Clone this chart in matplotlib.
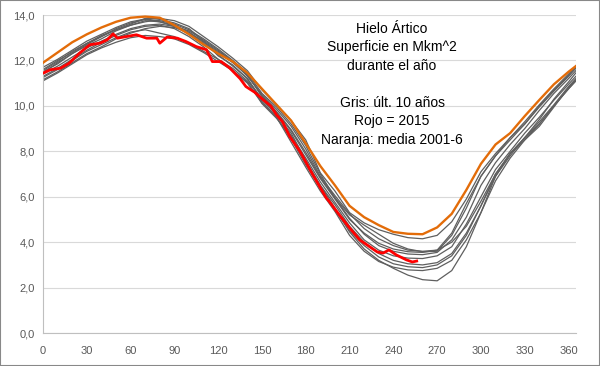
import matplotlib
matplotlib.use("Agg")
import matplotlib.pyplot as plt
from matplotlib.patches import Rectangle

plt.rcParams["font.family"] = ["Liberation Sans", "DejaVu Sans"]

# ── datos (Mkm^2) ──
dias = [0, 10, 20, 30, 40, 50, 60, 70, 80, 90, 100, 110, 120, 130, 140, 150, 160, 170, 180,
        190, 200, 210, 220, 230, 240, 250, 260, 270, 280, 290, 300, 310, 320, 330, 340, 350, 360, 365]

# últimos 10 años (gris)
gris_1 = [11.70, 12.05, 12.45, 12.85, 13.15, 13.45, 13.70, 13.82, 13.75, 13.60, 13.35, 12.95, 12.50, 12.00, 11.45, 10.55, 9.95, 9.20, 8.25,
          7.00, 5.95, 5.20, 4.75, 4.35, 3.95, 3.70, 3.58, 3.60, 4.30, 5.50, 6.90, 7.80, 8.50, 9.20, 10.00, 10.70, 11.35, 11.70]
gris_2 = [11.50, 11.85, 12.30, 12.70, 13.05, 13.35, 13.55, 13.70, 13.80, 13.65, 13.40, 12.85, 12.20, 11.80, 11.20, 10.30, 9.60, 8.80, 7.60,
          6.50, 5.50, 4.45, 3.70, 3.20, 2.85, 2.55, 2.35, 2.30, 2.75, 3.80, 5.30, 6.90, 7.90, 8.60, 9.40, 10.30, 11.05, 11.45]
gris_3 = [11.30, 11.65, 12.05, 12.45, 12.80, 13.10, 13.35, 13.50, 13.55, 13.40, 13.05, 12.60, 12.05, 11.55, 11.00, 10.15, 9.50, 8.55, 7.40,
          6.40, 5.40, 4.50, 3.85, 3.35, 3.05, 2.92, 2.88, 3.00, 3.40, 4.30, 5.60, 7.00, 7.90, 8.50, 9.10, 9.95, 10.80, 11.15]
gris_4 = [11.45, 11.90, 12.30, 12.65, 12.95, 13.30, 13.55, 13.75, 13.70, 13.55, 13.25, 12.80, 12.35, 11.90, 11.35, 10.45, 9.75, 8.95, 7.95,
          6.85, 5.95, 5.05, 4.35, 3.85, 3.60, 3.48, 3.45, 3.55, 4.10, 5.10, 6.50, 7.50, 8.30, 9.00, 9.80, 10.55, 11.20, 11.55]
gris_5 = [11.60, 12.00, 12.35, 12.75, 13.10, 13.35, 13.60, 13.85, 13.85, 13.75, 13.50, 13.05, 12.60, 12.10, 11.55, 10.70, 10.05, 9.35, 8.50,
          7.05, 6.25, 5.30, 4.85, 4.55, 4.35, 4.20, 4.15, 4.30, 4.90, 5.90, 7.10, 7.90, 8.60, 9.30, 10.05, 10.75, 11.40, 11.75]
gris_6 = [11.10, 11.45, 11.85, 12.25, 12.55, 12.80, 13.00, 13.10, 13.05, 12.95, 12.70, 12.35, 11.95, 11.55, 11.05, 10.10, 9.45, 8.65, 7.55,
          6.50, 5.65, 4.70, 4.00, 3.50, 3.20, 3.05, 3.00, 3.10, 3.50, 4.40, 5.60, 6.90, 7.80, 8.60, 9.30, 10.05, 10.85, 11.20]
gris_7 = [11.25, 11.60, 12.00, 12.40, 12.70, 13.00, 13.25, 13.35, 13.20, 13.05, 12.75, 12.40, 12.05, 11.65, 11.10, 10.30, 9.60, 8.70, 7.70,
          6.65, 5.75, 4.85, 4.10, 3.65, 3.40, 3.30, 3.28, 3.40, 3.80, 4.80, 6.00, 7.20, 8.00, 8.80, 9.50, 10.25, 10.95, 11.30]
gris_8 = [11.40, 11.75, 12.15, 12.55, 12.85, 13.15, 13.40, 13.55, 13.60, 13.50, 13.20, 12.75, 12.25, 11.75, 11.20, 10.20, 9.50, 8.40, 7.30,
          6.25, 5.35, 4.30, 3.60, 3.15, 2.90, 2.78, 2.75, 2.85, 3.20, 4.10, 5.30, 6.70, 7.70, 8.50, 9.20, 10.00, 10.75, 11.10]
gris_9 = [11.55, 11.95, 12.40, 12.75, 13.05, 13.40, 13.65, 13.80, 13.70, 13.50, 13.30, 12.90, 12.45, 11.95, 11.40, 10.40, 9.70, 8.90, 7.85,
          6.80, 5.90, 5.00, 4.40, 3.95, 3.70, 3.58, 3.55, 3.65, 4.40, 5.70, 6.90, 7.80, 8.60, 9.20, 9.95, 10.65, 11.30, 11.65]
gris_10 = [11.15, 11.50, 11.90, 12.30, 12.60, 12.95, 13.20, 13.40, 13.50, 13.45, 13.20, 12.85, 12.40, 11.95, 11.30, 10.50, 9.85, 9.10, 8.10,
           6.90, 6.05, 5.25, 4.60, 4.15, 3.85, 3.65, 3.60, 3.65, 4.00, 4.70, 5.80, 7.00, 7.90, 8.60, 9.20, 10.00, 10.75, 11.10]
grises = [gris_1, gris_2, gris_3, gris_4, gris_5, gris_6, gris_7, gris_8, gris_9, gris_10]

# media 2001-6 (naranja)
naranja = [11.90, 12.35, 12.80, 13.15, 13.45, 13.70, 13.88, 13.93, 13.88, 13.55, 13.15, 12.70, 12.30, 11.95, 11.45, 10.75, 10.05, 9.35, 8.35,
           7.35, 6.50, 5.60, 5.10, 4.75, 4.45, 4.37, 4.35, 4.65, 5.25, 6.30, 7.45, 8.30, 8.80, 9.55, 10.26, 10.95, 11.50, 11.75]

# 2015 (rojo)
dias_2015 = [0, 5, 12, 18, 25, 32, 39, 44, 48, 51, 57, 64, 71, 78, 80, 85, 92, 98, 105, 112, 116, 122, 128, 135,
             139, 145, 151, 156, 160, 164, 169, 176, 185, 194, 196, 203, 210, 217, 224, 229, 233, 237, 242, 249, 253, 256]
rojo = [11.44, 11.59, 11.66, 11.88, 12.32, 12.69, 12.76, 12.91, 13.17, 12.98, 13.05, 13.13, 12.98, 12.98, 12.76, 13.03,
        12.98, 12.83, 12.61, 12.47, 11.95, 11.95, 11.66, 11.20, 10.85, 10.60, 10.26, 10.00, 9.60, 9.31, 8.65, 8.00,
        6.95, 5.95, 5.80, 5.20, 4.63, 4.10, 3.79, 3.57, 3.52, 3.66, 3.44, 3.22, 3.13, 3.17]

xticks = list(range(0, 361, 30))
yticks = [0, 2, 4, 6, 8, 10, 12, 14]

texto = ["Hielo Ártico", "Superficie en Mkm^2", "durante el año", "",
         "Gris: últ. 10 años", "Rojo = 2015", "Naranja: media 2001-6"]

fig = plt.figure(figsize=(6, 3.66), dpi=100)
ax = fig.add_axes([0.0717, 0.090, 0.888, 0.869])

for serie in grises:
    ax.plot(dias, serie, color="#5f5f5f", lw=0.9, zorder=2)
ax.plot(dias, naranja, color="#e36c09", lw=1.7, zorder=3)
ax.plot(dias_2015, rojo, color="#ff0000", lw=2.0, zorder=4)

ax.set_xlim(0, 365)
ax.set_ylim(0, 14)
ax.set_xticks(xticks)
ax.set_yticks(yticks)
ax.set_yticklabels([f"{v:.1f}".replace(".", ",") for v in yticks])
ax.tick_params(length=0, colors="#595959", labelsize=8)
ax.tick_params(axis="x", pad=9)
ax.tick_params(axis="y", pad=6)
ax.grid(True, axis="y", color="#d9d9d9", lw=0.8, zorder=0)
for s in ["top", "right"]:
    ax.spines[s].set_visible(False)
for s in ["left", "bottom"]:
    ax.spines[s].set_color("#bfbfbf")
    ax.spines[s].set_linewidth(0.8)

y0 = 1 - 29 / 366
for i, linea in enumerate(texto):
    fig.text(392 / 600, y0 - i * 18.5 / 366, linea, ha="center", va="center",
             fontsize=10, color="black")

fig.patches.append(Rectangle((0, 0), 1, 1, transform=fig.transFigure, fill=False,
                             edgecolor="#888888", lw=1.5))

plt.savefig("out.png", dpi=100)
plt.close()
